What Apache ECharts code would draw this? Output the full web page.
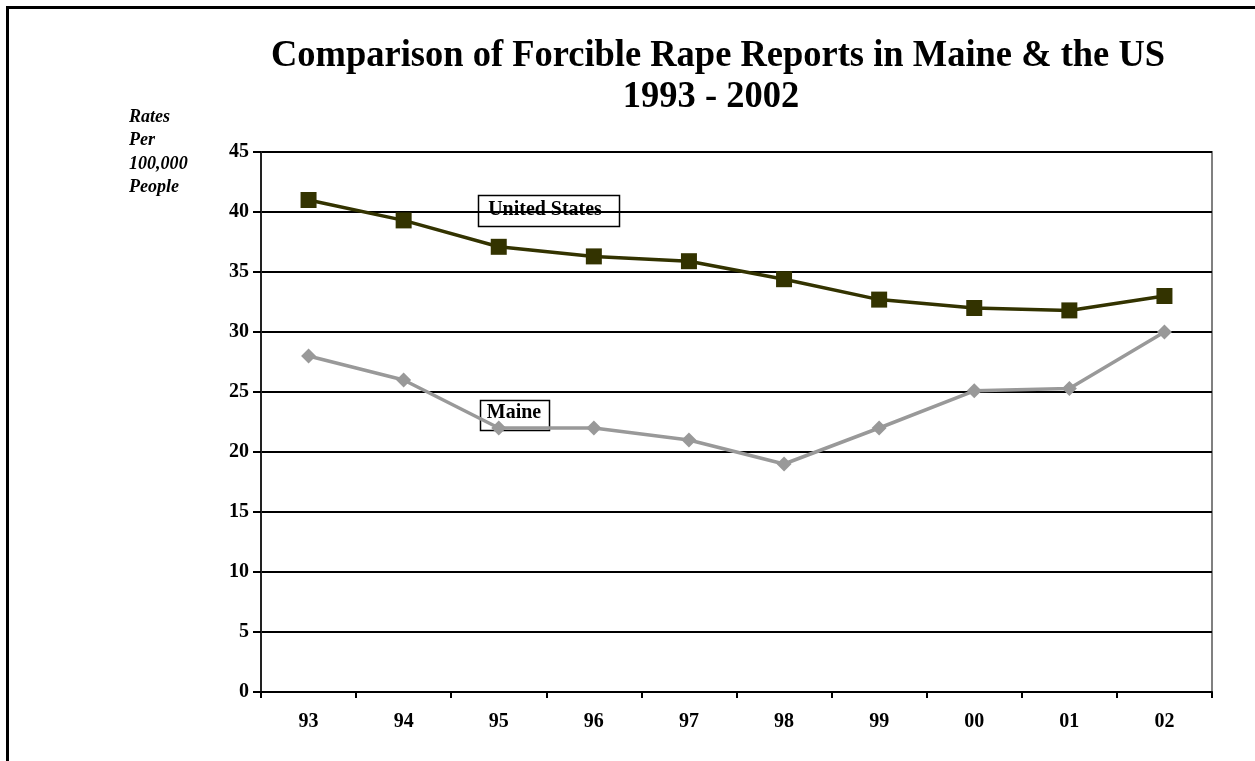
<!DOCTYPE html>
<html>
<head>
<meta charset="utf-8">
<script src="https://cdn.jsdelivr.net/npm/echarts@6/dist/echarts.min.js"></script>
<style>
html,body{margin:0;padding:0;background:#fff;}
#c{width:1255px;height:761px;}
</style>
</head>
<body>
<div id="c"></div>
<script>
const years = ['93','94','95','96','97','98','99','00','01','02'];
const usRates = [41.0, 39.3, 37.1, 36.3, 35.9, 34.4, 32.7, 32.0, 31.8, 33.0];
const maineRates = [28.0, 26.0, 22.0, 22.0, 21.0, 19.0, 22.0, 25.1, 25.3, 30.0];
const titleLines = ['Comparison of Forcible Rape Reports in Maine & the US', '1993 - 2002'];
const yTitleLines = ['Rates', 'Per', '100,000', 'People'];

const serif = '"Liberation Serif", "DejaVu Serif", serif';
const chart = echarts.init(document.getElementById('c'), null, {renderer: 'canvas'});

chart.setOption({
  animation: false,
  backgroundColor: '#fff',
  grid: {left: 261, top: 152, width: 951, height: 540, show: true, borderColor: '#808080', borderWidth: 2, backgroundColor: 'transparent'},
  xAxis: {
    type: 'category',
    data: years,
    boundaryGap: true,
    axisLine: {show: true, lineStyle: {color: '#000', width: 2}},
    axisTick: {show: true, interval: 0, length: 6, lineStyle: {color: '#000', width: 2}},
    axisLabel: {interval: 0, margin: 20, color: '#000', fontFamily: serif, fontWeight: 'bold', fontSize: 20},
    splitLine: {show: false}
  },
  yAxis: {
    type: 'value',
    min: 0, max: 45, interval: 5,
    axisLine: {show: true, lineStyle: {color: '#222', width: 2}},
    axisTick: {show: true, length: 8, lineStyle: {color: '#000', width: 2}},
    axisLabel: {margin: 12, color: '#000', fontFamily: serif, fontWeight: 'bold', fontSize: 20},
    splitLine: {show: true, lineStyle: {color: '#000', width: 2}}
  },
  series: [
    {
      name: 'Maine', type: 'line', data: maineRates,
      symbol: 'diamond', symbolSize: 15,
      lineStyle: {color: '#999999', width: 3.5},
      itemStyle: {color: '#999999'},
      z: 3
    },
    {
      name: 'United States', type: 'line', data: usRates,
      symbol: 'rect', symbolSize: 16,
      lineStyle: {color: '#333300', width: 3.5},
      itemStyle: {color: '#333300'},
      z: 4
    }
  ],
  graphic: [
    {type: 'rect', shape: {x: 7.5, y: 7.5, width: 1400, height: 900}, style: {fill: 'none', stroke: '#000', lineWidth: 3}, silent: true},
    {type: 'text', x: 718, y: 56, scaleX: 0.96, style: {text: titleLines[0], font: 'bold 38px ' + serif, fill: '#000', align: 'center', verticalAlign: 'middle'}},
    {type: 'text', x: 711, y: 97, scaleX: 0.96, style: {text: titleLines[1], font: 'bold 38px ' + serif, fill: '#000', align: 'center', verticalAlign: 'middle'}},
    {type: 'text', x: 129, y: 105, scaleX: 0.95, style: {text: yTitleLines.join('\n'), font: 'italic bold 19px ' + serif, lineHeight: 23.5, fill: '#000', align: 'left', verticalAlign: 'top'}},
    {type: 'group', z: 20, children: [
      {type: 'rect', shape: {x: 478.5, y: 195.5, width: 141, height: 31}, style: {fill: '#fff', stroke: '#000', lineWidth: 1.5}},
      {type: 'text', x: 545, y: 210, scaleX: 0.95, style: {text: 'United States', font: 'bold 21px ' + serif, fill: '#000', align: 'center', verticalAlign: 'middle'}},
      {type: 'rect', shape: {x: 480.5, y: 400.5, width: 69, height: 30}, style: {fill: '#fff', stroke: '#000', lineWidth: 1.5}},
      {type: 'text', x: 514, y: 413, scaleX: 0.95, style: {text: 'Maine', font: 'bold 21px ' + serif, fill: '#000', align: 'center', verticalAlign: 'middle'}}
    ]}
  ]
});
</script>
</body>
</html>
